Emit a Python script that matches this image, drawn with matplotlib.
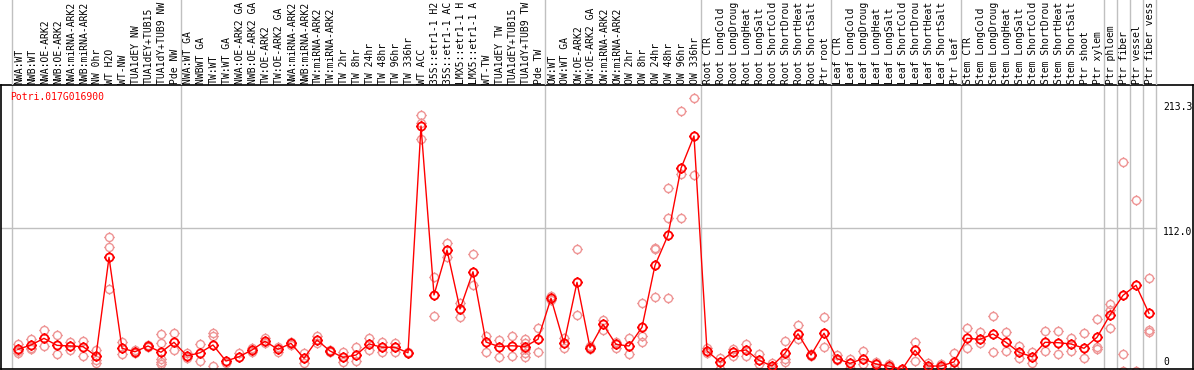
import numpy as np
import matplotlib
matplotlib.use("Agg")
import matplotlib.pyplot as plt
from matplotlib.path import Path

gene_id = "Potri.017G016900"

categories = [
    "NWA:WT", "NWB:WT", "NWA:OE-ARK2", "NWB:OE-ARK2", "NWA:miRNA-ARK2", "NWB:miRNA-ARK2",
    "NW 0hr", "WT H2O", "WT-NW", "TUA1dEY NW", "TUA1dEY+TUB15", "TUA1dY+TUB9 NW", "Pde NW",
    "NWA:WT GA", "NWBWT GA", "TW:WT", "TW:WT GA", "NWA:OE-ARK2 GA", "NWB:OE-ARK2 GA",
    "TW:OE-ARK2", "TW:OE-ARK2 GA", "NWA:miRNA-ARK2", "NWB:miRNA-ARK2", "TW:miRNA-ARK2",
    "TW:miRNA-ARK2", "TW 2hr", "TW 8hr", "TW 24hr", "TW 48hr", "TW 96hr", "TW 336hr",
    "WT ACC", "35S::etr1-1 H2", "35S::etr1-1 AC", "LMX5::etr1-1 H", "LMX5::etr1-1 A",
    "WT-TW", "TUA1dEY TW", "TUA1dEY+TUB15", "TUA1dY+TUB9 TW", "Pde TW",
    "OW:WT", "OW:WT GA", "OW:OE-ARK2", "OW:OE-ARK2 GA", "OW:miRNA-ARK2", "OW:miRNA-ARK2",
    "OW 2hr", "OW 8hr", "OW 24hr", "OW 48hr", "OW 96hr", "OW 336hr",
    "Root CTR", "Root LongCold", "Root LongDroug", "Root LongHeat", "Root LongSalt",
    "Root ShortCold", "Root ShortDrou", "Root ShortHeat", "Root ShortSalt", "Ptr root",
    "Leaf CTR", "Leaf LongCold", "Leaf LongDroug", "Leaf LongHeat", "Leaf LongSalt",
    "Leaf ShortCold", "Leaf ShortDrou", "Leaf ShortHeat", "Leaf ShortSalt", "Ptr leaf",
    "Stem CTR", "Stem LongCold", "Stem LongDroug", "Stem LongHeat", "Stem LongSalt",
    "Stem ShortCold", "Stem ShortDrou", "Stem ShortHeat", "Stem ShortSalt", "Ptr shoot",
    "Ptr xylem", "Ptr phloem", "Ptr fiber", "Ptr vessel", "Ptr fiber vess",
]

# number of samples in each group (separated by grey lines)
group_sizes = [13, 28, 12, 10, 10, 11, 1, 1, 1, 1]

mean_values = [
    16.6, 20.0, 25.2, 19.7, 19.2, 18.7, 11.4, 88.7, 17.4, 14.7, 19.2, 14.3, 22.1,
    11.4, 13.9, 20.0, 7.4, 10.8, 16.1, 22.9, 16.6, 21.3, 9.6, 23.9, 15.3, 10.3, 12.1,
    20.8, 18.2, 18.2, 13.9, 191.6, 59.2, 94.4, 48.2, 77.4, 22.3, 18.7, 19.4, 18.7, 24.5,
    56.6, 21.3, 69.1, 17.9, 36.2, 20.5, 19.2, 33.9, 82.4, 106.0, 158.5, 183.8,
    15.3, 6.7, 14.7, 16.1, 8.0, 3.5, 13.5, 28.8, 12.1, 29.2,
    9.3, 5.6, 9.3, 5.1, 3.5, 0.9, 15.8, 3.5, 3.5, 6.7,
    25.2, 24.5, 28.6, 22.1, 14.3, 10.8, 22.1, 21.8, 20.8, 17.4, 26.0,
    43.5, 58.9, 66.8, 44.8,
]

replicates = [
    [20.8, 15.5, 13.9], [24.5, 17.4, 16.6], [31.7, 19.2], [27.8, 12.7], [22.6, 16.1],
    [23.4, 11.4], [16.1, 8.2, 6.1], [104.9, 96.6, 63.6], [22.6, 12.7], [16.0, 13.7],
    [20.0, 18.2], [28.4, 21.3, 8.8, 6.9, 5.1], [29.2, 16.1],
    [13.5, 9.6], [20.8, 7.4], [29.6, 27.0, 3.5], [6.1], [13.5], [17.6, 14.5],
    [25.2, 21.3], [18.7, 14.7], [22.6, 20.0], [13.5, 5.6], [27.0, 21.3], [16.0, 14.5],
    [14.7, 6.9], [18.7, 7.7], [25.2, 16.1], [22.6, 14.7], [21.3, 14.7], [14.5],
    [200.2, 194.2, 181.2], [73.5, 42.7], [99.7, 89.2], [53.1, 41.7], [91.3, 66.8],
    [27.0, 14.3], [23.9, 10.3], [27.0, 11.4], [24.5, 21.3, 16.6, 13.5, 10.8], [33.1, 14.7],
    [55.0, 58.0], [25.2, 17.9], [95.2, 43.5], [19.2, 16.8], [39.6, 31.7], [22.6, 17.9],
    [25.2, 12.7], [52.7, 27.3, 22.1], [95.8, 95.2, 57.6], [142.8, 119.3, 56.6],
    [203.4, 153.8, 119.3], [213.3, 153.2],
    [17.4, 13.9], [9.6, 0.9], [16.8, 11.4], [20.5, 11.4], [12.7, 5.1], [6.1, 1.7],
    [23.4, 8.8, 6.9], [35.7, 24.5], [13.0, 11.0], [41.7, 18.2],
    [12.1, 8.2], [8.8, 1.7], [15.5, 4.9], [6.9, 1.7], [4.9, 1.7], [0.5], [22.6, 7.7],
    [6.1, 1.7], [5.0, 1.7], [13.5, 1.7],
    [33.1, 17.4], [30.4, 21.8], [42.7, 14.3], [30.4, 15.5], [19.2, 9.6], [14.7, 6.1],
    [31.2, 15.3], [31.2, 12.9], [25.2, 15.3], [29.2, 9.6], [40.1, 18.7, 16.6],
    [52.1, 47.4, 33.1], [163.2, 12.9, 0.0], [133.6, 0.0], [72.3, 31.7, 30.4],
]

axis_labels = ["213.3", "112.0", "0"]
grid_value = 112.0

# ---- layout (pixel geometry of the reference) ----
W, H = 1194, 370
PX0, STEP = 18.0, 13.0          # pixel x of first category, spacing
HEADER = 85                      # header height in pixels
Y0_PIX, SCALE = 370.5, 1.276     # pixel y of value 0, pixels per unit


def px2x(px):
    return (px - PX0) / STEP


def py2v(py):
    return (Y0_PIX - py) / SCALE


red = "#FF0000"
pink = "#EE9494"
grey = "#C0C0C0"
mono = "DejaVu Sans Mono"

# custom marker: circle with four small outward ticks
circ = Path.unit_circle()
ticks = []
for dx, dy in [(0, 1), (0, -1), (1, 0), (-1, 0)]:
    ticks.append(Path([(dx * 1.0, dy * 1.0), (dx * 1.3, dy * 1.3)],
                      [Path.MOVETO, Path.LINETO]))
marker_path = Path.make_compound_path(circ, *ticks)

fig = plt.figure(figsize=(W / 100, H / 100), dpi=100)
fig.patch.set_facecolor("white")

ax = fig.add_axes([1 / W, 1 / H, (W - 2) / W, (H - HEADER - 1) / H])
ax.set_xlim(px2x(1), px2x(W - 1))
ax.set_ylim(py2v(369), py2v(HEADER))
ax.set_xticks([])
ax.set_yticks([])
for s in ax.spines.values():
    s.set_color("black")
    s.set_linewidth(1.2)

hax = fig.add_axes([0, (H - HEADER) / H, 1, HEADER / H])
hax.set_xlim(px2x(0), px2x(W))
hax.set_ylim(0, HEADER)
hax.axis("off")

n = len(categories)
xs = np.arange(n)

# group separators
bounds = [-0.5]
acc = -0.5
for g in group_sizes:
    acc += g
    bounds.append(acc)
for b in bounds:
    ax.axvline(b, color=grey, lw=1.0, zorder=1)
    hax.axvline(b, color=grey, lw=1.0, zorder=1)

# horizontal grid line
ax.plot([px2x(1), bounds[-1]], [grid_value, grid_value], color=grey, lw=1.0, zorder=1)

# replicates
for i, reps in enumerate(replicates):
    ax.plot([xs[i]] * len(reps), reps, linestyle="none", marker=marker_path,
            markersize=7.5, mfc="none", mec=pink, mew=1.0, zorder=2, clip_on=True)

# mean line
ax.plot(xs, mean_values, color=red, lw=1.0, marker=marker_path, markersize=7.5,
        mfc="none", mec=red, mew=1.3, zorder=3)

# gene id
ax.text(px2x(10), py2v(97), gene_id, color=red, fontsize=7, family=mono,
        ha="left", va="center")

# right-hand scale labels
label_py = [107, 232, 362]
for lab, py in zip(axis_labels, label_py):
    ax.text(px2x(1163), py2v(py), lab, color="black", fontsize=7, family=mono,
            ha="left", va="center")

# category labels in header
for i, lab in enumerate(categories):
    hax.text(xs[i] + 0.08, 1.5, lab, rotation=90, ha="center", va="bottom",
             fontsize=7, family=mono, color="black")

fig.savefig("out.png", dpi=100)
